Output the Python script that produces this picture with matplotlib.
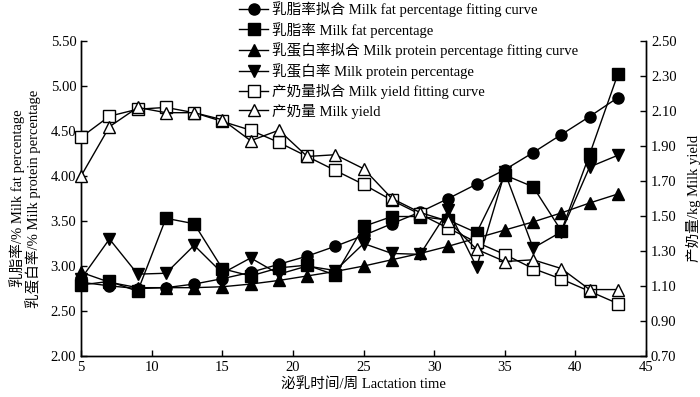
import numpy as np
import matplotlib.pyplot as plt
from matplotlib.ticker import FormatStrFormatter

plt.rcParams['font.family'] = ['Liberation Serif', 'Noto Sans CJK SC']
plt.rcParams['axes.unicode_minus'] = False

weeks = [5, 7, 9, 11, 13, 15, 17, 19, 21, 23, 25, 27, 29, 31, 33, 35, 37, 39, 41, 43]

fat_fit = [2.82, 2.78, 2.75, 2.76, 2.80, 2.86, 2.93, 3.02, 3.11, 3.22, 3.34, 3.47,
           3.60, 3.75, 3.91, 4.07, 4.26, 4.46, 4.66, 4.87]
fat_obs = [2.79, 2.83, 2.72, 3.53, 3.47, 2.97, 2.89, 2.98, 3.01, 2.90, 3.44, 3.55,
           3.55, 3.51, 3.37, 4.01, 3.88, 3.39, 4.24, 5.13]
prot_fit = [2.93, 2.82, 2.76, 2.76, 2.76, 2.77, 2.80, 2.84, 2.89, 2.94, 3.00, 3.07,
            3.14, 3.22, 3.31, 3.40, 3.49, 3.59, 3.70, 3.80]
prot_obs = [2.86, 3.30, 2.91, 2.92, 3.23, 2.92, 3.09, 2.91, 3.00, 2.95, 3.25, 3.14,
            3.13, 3.62, 2.99, 4.04, 3.20, 3.38, 4.10, 4.23]
yield_fit = [1.95, 2.07, 2.11, 2.12, 2.09, 2.04, 1.99, 1.92, 1.84, 1.76, 1.68, 1.59,
             1.51, 1.43, 1.35, 1.28, 1.20, 1.14, 1.07, 1.00]
yield_obs = [1.73, 2.01, 2.12, 2.09, 2.09, 2.05, 1.93, 1.99, 1.84, 1.85, 1.77, 1.60,
             1.52, 1.47, 1.31, 1.24, 1.25, 1.20, 1.08, 1.08]

labels = ['乳脂率拟合 Milk fat percentage fitting curve',
          '乳脂率 Milk fat percentage',
          '乳蛋白率拟合 Milk protein percentage fitting curve',
          '乳蛋白率 Milk protein percentage',
          '产奶量拟合 Milk yield fitting curve',
          '产奶量 Milk yield']

fig, ax = plt.subplots(figsize=(7, 3.97), dpi=100)
fig.subplots_adjust(left=0.116, right=0.923, bottom=0.103, top=0.897)
ax2 = ax.twinx()

kw = dict(color='black', lw=1, clip_on=False, zorder=3)
h1, = ax.plot(weeks, fat_fit, marker='o', ms=8, **kw)
h2, = ax.plot(weeks, fat_obs, marker='s', ms=8, **kw)
h3, = ax.plot(weeks, prot_fit, marker='^', ms=8, **kw)
h4, = ax.plot(weeks, prot_obs, marker='v', ms=8, **kw)
h5, = ax2.plot(weeks, yield_fit, marker='s', ms=9, mfc='white', mew=1, **kw)
h6, = ax2.plot(weeks, yield_obs, marker='^', ms=9, mfc='white', mew=1, **kw)

ax.set_xlim(5, 45)
ax.set_ylim(2.0, 5.5)
ax.set_yticks(np.arange(2.0, 5.51, 0.5))
ax.yaxis.set_major_formatter(FormatStrFormatter('%.2f'))
ax.set_xticks(range(5, 46, 5))
ax2.set_ylim(0.7, 2.5)
ax2.set_yticks(np.arange(0.7, 2.51, 0.2))
ax2.yaxis.set_major_formatter(FormatStrFormatter('%.2f'))

for a in (ax, ax2):
    a.spines['top'].set_visible(False)
    a.tick_params(direction='in', labelsize=10.5, length=4, width=1)
    for s in a.spines.values():
        s.set_linewidth(1)

ax.set_xlabel('泌乳时间/周 Lactation time', fontsize=10.5, labelpad=2)
ax.set_ylabel('乳脂率/% Milk fat percentage\n乳蛋白率/% Milk protein percentage',
              fontsize=10.5, labelpad=7, linespacing=1.0)
ax2.set_ylabel('产奶量/kg Milk yield', fontsize=10.5, labelpad=7)

fig.legend([h1, h2, h3, h4, h5, h6], labels, loc='upper left',
           bbox_to_anchor=(0.333, 1.012), frameon=False, fontsize=10.5,
           handlelength=2.0, handletextpad=0.3, labelspacing=0.33, borderaxespad=0)

fig.savefig('out.png', dpi=100)
